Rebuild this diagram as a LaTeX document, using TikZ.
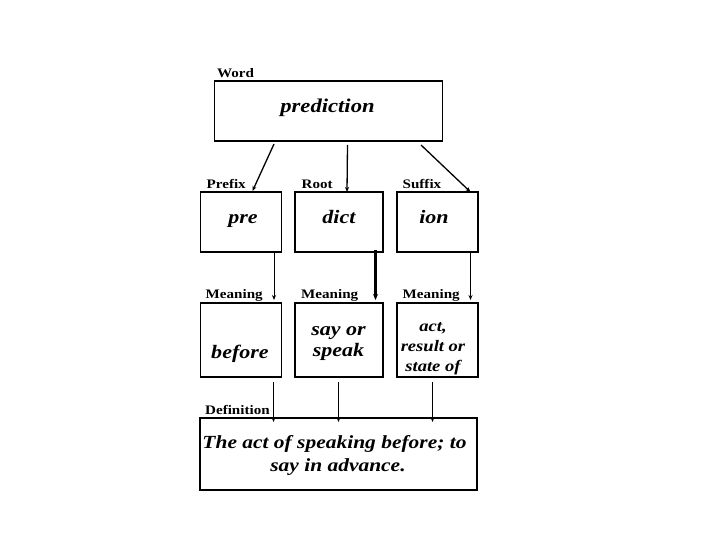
\documentclass[tikz,border=0pt]{standalone}
\usepackage{fontspec}
\setmainfont{Liberation Serif}
\newfontfamily\widefont[FakeStretch=1.16]{Liberation Serif}
\usetikzlibrary{arrows.meta}
\begin{document}
\begin{tikzpicture}[x=1pt,y=-1pt,
  box/.style={draw,line width=1.6pt,inner sep=0pt},
  big/.style={font=\widefont\fontsize{19}{21}\selectfont\bfseries\itshape,anchor=base,inner sep=0pt},
  lab/.style={font=\widefont\fontsize{13}{14}\selectfont\bfseries,inner sep=0pt,anchor=base west},
  arr/.style={line width=1pt,-{Stealth[length=5pt,width=4pt]}}]
\useasboundingbox (0,0) rectangle (720,540);
% boxes
\node[box,minimum width=228pt,minimum height=60pt] (word) at (328.5,111) {};
\node[big,font=\widefont\fontsize{19.5}{21}\selectfont\bfseries\itshape] (wordt) at (327.5,113) {prediction};
\node[box,minimum width=81pt,minimum height=60pt] (pre) at (241,222) {};
\node[big] (pret) at (243,223) {pre};
\node[box,minimum width=88pt,minimum height=60pt] (dict) at (339,222) {};
\node[big] (dictt) at (339,223) {dict};
\node[box,minimum width=81pt,minimum height=60pt] (ion) at (437.5,222) {};
\node[big] (iont) at (434,223) {ion};
\node[box,minimum width=81pt,minimum height=74pt] (bef) at (241,340) {};
\node[big] (beft) at (240,358) {before};
\node[box,minimum width=88pt,minimum height=74pt] (say) at (339,340) {};
\node[big] (sayt1) at (338.5,335) {say or};
\node[big] (sayt2) at (338.5,356.5) {speak};
\node[box,minimum width=81pt,minimum height=74pt] (act) at (437.5,340) {};
\node[big,font=\widefont\fontsize{16}{18}\selectfont\bfseries\itshape] (actt1) at (433,331.5) {act,};
\node[big,font=\widefont\fontsize{16}{18}\selectfont\bfseries\itshape] (actt2) at (433,351.5) {result or};
\node[big,font=\widefont\fontsize{16}{18}\selectfont\bfseries\itshape] (actt3) at (433,371.5) {state of};
\node[box,minimum width=277pt,minimum height=72pt] (def) at (338.5,454) {};
\node[big,font=\widefont\fontsize{18.5}{21}\selectfont\bfseries\itshape] (deft1) at (334.5,448) {The act of speaking before; to};
\node[big,font=\widefont\fontsize{18.5}{21}\selectfont\bfseries\itshape] (deft2) at (338,471.5) {say in advance.};
% labels
\node[lab] (lword) at (217,77.5) {Word};
\node[lab] (lpre) at (206.5,189) {Prefix};
\node[lab] (lroot) at (301.5,189) {Root};
\node[lab] (lsuf) at (402.5,189) {Suffix};
\node[lab] (lm1) at (205.5,298.5) {Meaning};
\node[lab] (lm2) at (301,298.5) {Meaning};
\node[lab] (lm3) at (402.5,298.5) {Meaning};
\node[lab] (ldef) at (205,414) {Definition};
% connector end points
\coordinate (w1) at (274,144); \coordinate (w1e) at (252.5,191);
\coordinate (w2) at (347.5,145); \coordinate (w2e) at (347,192);
\coordinate (w3) at (421,145); \coordinate (w3e) at (470.5,192);
\coordinate (p1) at (274,252); \coordinate (p1e) at (274,300);
\coordinate (p2) at (375.5,250); \coordinate (p2e) at (375.5,300);
\coordinate (p3) at (470.5,252); \coordinate (p3e) at (470.5,300);
\coordinate (m1) at (273.5,382); \coordinate (m1e) at (273.5,422);
\coordinate (m2) at (338.5,382); \coordinate (m2e) at (338.5,422);
\coordinate (m3) at (432.5,382); \coordinate (m3e) at (432.5,422);
\draw[arr,line width=1.3pt] (w1) -- (w1e);
\draw[arr,line width=1.3pt] (w2) -- (w2e);
\draw[arr,line width=1.3pt] (w3) -- (w3e);
\draw[arr,line width=0.8pt] (p1) -- (p1e);
\draw[arr,line width=2.4pt,-{Stealth[length=6pt,width=5pt]}] (p2) -- (p2e);
\draw[arr,line width=0.8pt] (p3) -- (p3e);
\draw[arr,line width=1.2pt] (m1) -- (m1e);
\draw[arr,line width=1.6pt] (m2) -- (m2e);
\draw[arr,line width=1.2pt] (m3) -- (m3e);
\end{tikzpicture}
\end{document}
